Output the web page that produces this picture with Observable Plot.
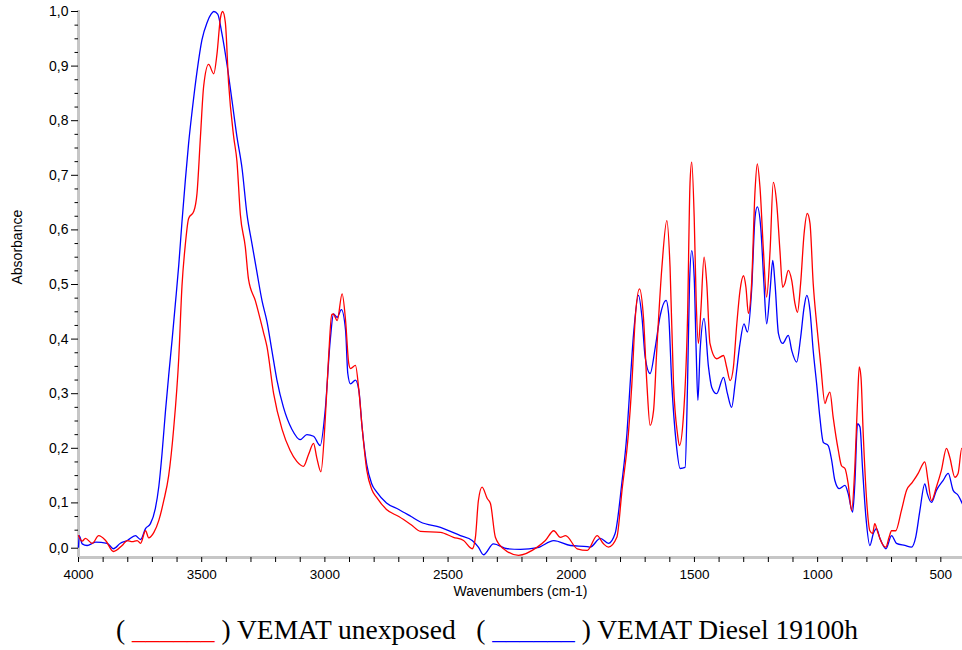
<!DOCTYPE html>
<html>
<head>
<meta charset="utf-8">
<script src="https://cdn.jsdelivr.net/npm/d3@7"></script>
<script src="https://cdn.jsdelivr.net/npm/@observablehq/plot@0.6"></script>
<style>
  html, body { margin: 0; padding: 0; background: #fff; }
  #chart svg { display: block; }
  #legend {
    font-family: "Liberation Serif", "Times New Roman", serif;
    font-size: 27.5px;
    line-height: 30px;
    white-space: pre;
    text-align: center;
    padding-left: 12px;
    margin-top: 10px;
    color: #000;
  }
  #legend .red { color: #ff0000; }
  #legend .blue { color: #0000ff; }
</style>
</head>
<body>
<div id="chart"></div>
<div id="legend">( <span class="red">______</span> ) VEMAT unexposed   ( <span class="blue">______</span> ) VEMAT Diesel 19100h</div>
<script>
// ---- Data ----
const seriesNames = ["VEMAT unexposed", "VEMAT Diesel 19100h"];

const redWn = [4000,3985,3972,3944,3918,3890,3858,3823,3802,3782,3762,3748,3728,3715,3694,3674,3654,3634,3614,3593,3580,3566,3553,3532,3519,3505,3492,3472,3451,3438,3424,3415,3404,3391,3370,3357,3343,3323,3310,3282,3249,3235,3208,3174,3141,3114,3087,3066,3046,3033,3016,2999,2985,2972,2966,2950,2930,2916,2903,2896,2876,2862,2849,2830,2810,2790,2750,2700,2650,2612,2531,2478,2437,2402,2389,2377,2362,2341,2328,2308,2275,2214,2138,2105,2071,2044,2023,1976,1935,1895,1869,1849,1815,1794,1768,1754,1740,1723,1707,1693,1680,1666,1653,1632,1612,1599,1585,1569,1561,1545,1528,1518,1511,1501,1493,1484,1474,1461,1450,1437,1410,1382,1369,1355,1342,1328,1315,1301,1291,1281,1268,1254,1245,1234,1220,1207,1193,1180,1166,1153,1142,1133,1119,1105,1092,1082,1069,1055,1042,1031,1018,1004,988,970,961,950,937,916,903,889,876,862,849,838,831,824,815,801,788,777,768,758,741,723,710,700,683,660,639,615,592,572,565,552,538,518,498,477,464,443,430,415,412];
const redAbs = [0.040,0.030,0.035,0.026,0.040,0.031,0.011,0.022,0.031,0.029,0.031,0.026,0.049,0.036,0.046,0.068,0.104,0.150,0.235,0.366,0.497,0.575,0.621,0.634,0.667,0.771,0.863,0.903,0.886,0.922,0.988,1.000,0.980,0.870,0.770,0.726,0.628,0.569,0.510,0.470,0.412,0.386,0.300,0.235,0.196,0.176,0.167,0.189,0.209,0.183,0.157,0.249,0.366,0.445,0.446,0.434,0.483,0.434,0.355,0.346,0.352,0.306,0.239,0.160,0.125,0.110,0.088,0.075,0.060,0.048,0.046,0.037,0.031,0.016,0.037,0.104,0.129,0.108,0.099,0.037,0.016,0.004,0.019,0.031,0.049,0.037,0.040,0.016,0.013,0.040,0.025,0.019,0.037,0.123,0.227,0.318,0.440,0.492,0.440,0.318,0.242,0.269,0.379,0.532,0.617,0.532,0.318,0.227,0.205,0.257,0.440,0.685,0.724,0.623,0.471,0.392,0.452,0.550,0.502,0.392,0.364,0.370,0.348,0.324,0.348,0.428,0.489,0.516,0.495,0.447,0.502,0.672,0.721,0.678,0.562,0.477,0.562,0.687,0.648,0.562,0.495,0.502,0.526,0.507,0.465,0.449,0.502,0.593,0.630,0.612,0.502,0.428,0.355,0.282,0.294,0.303,0.257,0.196,0.168,0.163,0.135,0.086,0.165,0.288,0.349,0.330,0.227,0.104,0.049,0.044,0.062,0.049,0.028,0.019,0.037,0.049,0.049,0.086,0.123,0.138,0.154,0.172,0.175,0.141,0.104,0.129,0.159,0.200,0.184,0.147,0.154,0.200,0.200];

const blueWn = [4000,3997,3985,3965,3931,3884,3858,3830,3802,3769,3748,3728,3708,3688,3674,3661,3647,3634,3620,3607,3593,3580,3566,3553,3539,3519,3499,3478,3462,3451,3435,3418,3397,3377,3357,3336,3316,3296,3276,3255,3235,3215,3195,3168,3134,3100,3073,3046,3019,2999,2978,2965,2950,2933,2916,2907,2896,2876,2862,2849,2830,2810,2790,2750,2700,2650,2612,2531,2450,2402,2377,2356,2316,2259,2206,2137,2071,2003,1935,1923,1882,1849,1822,1795,1774,1761,1747,1727,1713,1700,1680,1659,1639,1615,1605,1592,1574,1558,1538,1528,1520,1511,1501,1493,1486,1477,1461,1443,1430,1410,1382,1366,1349,1335,1315,1299,1285,1268,1254,1245,1231,1218,1207,1193,1182,1173,1159,1142,1119,1105,1085,1069,1055,1044,1031,1018,1004,991,977,957,943,930,912,889,876,858,849,838,828,818,804,788,774,761,747,723,700,680,646,619,602,585,565,555,538,518,491,470,450,430,415,412];
const blueAbs = [0.019,0.040,0.025,0.022,0.028,0.026,0.016,0.026,0.031,0.040,0.033,0.053,0.062,0.090,0.130,0.190,0.268,0.333,0.399,0.464,0.536,0.615,0.693,0.759,0.817,0.890,0.948,0.980,0.995,1.000,0.995,0.960,0.902,0.837,0.771,0.712,0.628,0.575,0.523,0.470,0.432,0.379,0.326,0.275,0.235,0.216,0.225,0.222,0.205,0.268,0.399,0.446,0.440,0.454,0.416,0.337,0.318,0.325,0.306,0.239,0.170,0.135,0.120,0.100,0.088,0.075,0.065,0.055,0.040,0.031,0.019,0.005,0.025,0.016,0.015,0.018,0.031,0.022,0.020,0.019,0.035,0.026,0.044,0.135,0.227,0.318,0.410,0.480,0.440,0.367,0.337,0.385,0.443,0.471,0.447,0.318,0.209,0.163,0.165,0.318,0.502,0.562,0.513,0.379,0.288,0.379,0.438,0.349,0.312,0.300,0.330,0.300,0.275,0.318,0.392,0.428,0.413,0.489,0.623,0.642,0.605,0.502,0.428,0.489,0.544,0.502,0.410,0.392,0.407,0.379,0.358,0.403,0.458,0.480,0.452,0.379,0.318,0.257,0.211,0.205,0.178,0.141,0.126,0.132,0.117,0.083,0.135,0.245,0.239,0.165,0.074,0.022,0.044,0.053,0.035,0.016,0.040,0.026,0.022,0.019,0.037,0.086,0.135,0.117,0.101,0.123,0.141,0.154,0.123,0.114,0.101,0.098];

// Axis ticks
const xMajorTicks = [4000, 3500, 3000, 2500, 2000, 1500, 1000, 500];
const xMinorTicks = [3900,3800,3700,3600,3400,3300,3200,3100,2900,2800,2700,2600,2400,2300,2200,2100,1900,1800,1700,1600,1400,1300,1200,1100,900,800,700,600];
const yMajorTicks = [0.017, 0.1, 0.2, 0.3, 0.4, 0.5, 0.6, 0.7, 0.8, 0.9, 1.0];
const yTickLabels = ["0,0", "0,1", "0,2", "0,3", "0,4", "0,5", "0,6", "0,7", "0,8", "0,9", "1,0"];
const yMinorTicks = [0.05,0.075,0.125,0.15,0.175,0.225,0.25,0.275,0.325,0.35,0.375,0.425,0.45,0.475,0.525,0.55,0.575,0.625,0.65,0.675,0.725,0.75,0.775,0.825,0.85,0.875,0.925,0.95,0.975];
const xTitle = "Wavenumbers (cm-1)";
const yTitle = "Absorbance";

// ---- Build tables ----
const redData = redWn.map((w, i) => ({w, a: redAbs[i], s: seriesNames[0]}));
const blueData = blueWn.map((w, i) => ({w, a: blueAbs[i], s: seriesNames[1]}));
const yLabelMap = new Map(yMajorTicks.map((v, i) => [v, yTickLabels[i]]));

const font = "'Liberation Sans', Arial, sans-serif";
const axisGray = "#c6c6c6";

const chart = Plot.plot({
  width: 962,
  height: 605,
  marginLeft: 78,
  marginRight: 0,
  marginTop: 11,
  marginBottom: 48,
  style: {fontFamily: font, background: "#fff", color: "#000", overflow: "visible"},
  x: {domain: [4000, 412], label: null},
  y: {domain: [0, 1], label: null},
  marks: [
    Plot.ruleY([0], {stroke: axisGray, strokeWidth: 3}),
    Plot.ruleX([4000], {stroke: axisGray, strokeWidth: 3, y1: 0, y2: 1.002}),
    Plot.line(blueData, {x: "w", y: "a", stroke: "#0000ff", strokeWidth: 1.3, curve: "monotone-x"}),
    Plot.line(redData, {x: "w", y: "a", stroke: "#ff0000", strokeWidth: 1.3, curve: "monotone-x"}),
    Plot.axisX({ticks: xMajorTicks, tickSize: 5, tickPadding: 7, fontSize: 13.5, tickFormat: d => String(d), label: null}),
    Plot.axisX({ticks: xMinorTicks, tickSize: 5, tickFormat: () => "", label: null}),
    Plot.axisY({ticks: yMajorTicks, tickSize: 7, tickPadding: 3, fontSize: 14, tickFormat: d => yLabelMap.get(d), label: null}),
    Plot.axisY({ticks: yMinorTicks, tickSize: 3.5, tickFormat: () => "", label: null}),
    Plot.text([xTitle], {frameAnchor: "bottom", dy: 38, fontSize: 14, fill: "#000"}),
    Plot.text([yTitle], {frameAnchor: "left", dx: -61, rotate: -90, fontSize: 14, fill: "#000"})
  ]
});
document.getElementById("chart").appendChild(chart);
</script>
</body>
</html>
